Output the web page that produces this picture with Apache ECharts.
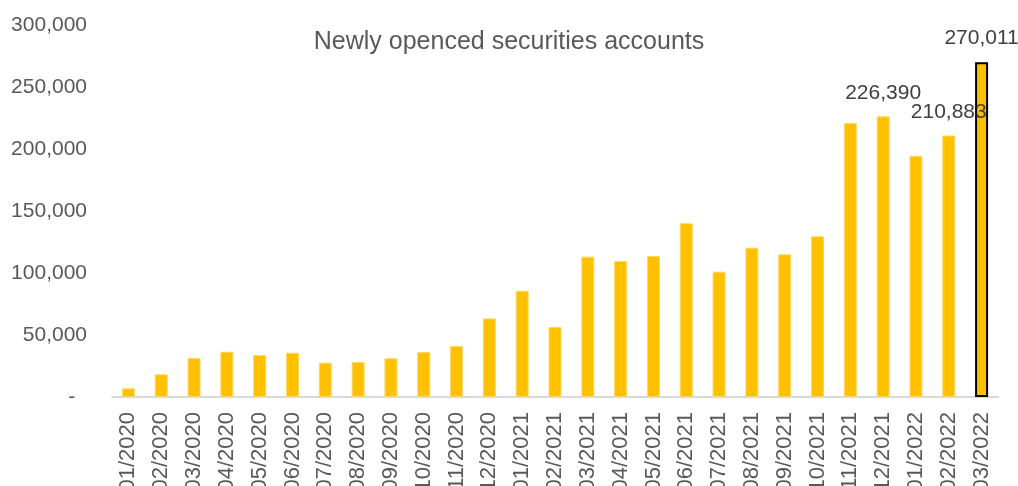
<!DOCTYPE html>
<html>
<head>
<meta charset="utf-8">
<script src="https://cdn.jsdelivr.net/npm/echarts@6/dist/echarts.min.js"></script>
<style>html,body{margin:0;padding:0;background:#fff}#c{width:1018px;height:486px}</style>
</head>
<body>
<div id="c"></div>
<script>
const titleText = 'Newly openced securities accounts';
const categories = ['01/2020','02/2020','03/2020','04/2020','05/2020','06/2020','07/2020','08/2020','09/2020','10/2020','11/2020','12/2020',
  '01/2021','02/2021','03/2021','04/2021','05/2021','06/2021','07/2021','08/2021','09/2021','10/2021','11/2021','12/2021',
  '01/2022','02/2022','03/2022'];
const accounts = [7000,18300,31500,36500,33900,35700,27700,28200,31200,36300,41100,63400,
  85700,56500,113200,109700,113700,140100,101100,120400,115100,129600,221000,226390,
  194500,210883,270011];
const labelledCategories = ['12/2021','02/2022','03/2022'];
const highlightCategory = '03/2022';
const yTicks = [0,50000,100000,150000,200000,250000,300000];

const font = 'Liberation Sans, Arial, sans-serif';
const fmt = v => v === 0 ? '-  ' : v.toLocaleString('en-US');

const data = accounts.map((v,i) => {
  const c = categories[i];
  const d = {value: v};
  if (labelledCategories.includes(c)) {
    d.label = {show: true};
  }
  if (c === highlightCategory) {
    d.itemStyle = {borderColor: '#000000', borderWidth: 2};
  }
  return d;
});

const chart = echarts.init(document.getElementById('c'), null, {renderer: 'canvas'});
chart.setOption({
  animation: false,
  backgroundColor: '#ffffff',
  title: {
    text: titleText, left: 'center', top: 25,
    textStyle: {fontFamily: font, fontSize: 25, fontWeight: 'normal', color: '#595959'}
  },
  grid: {left: 112, right: 20, top: 25, bottom: 89, containLabel: false, outerBoundsMode: 'none'},
  xAxis: {
    type: 'category', data: categories,
    axisLine: {lineStyle: {color: '#D9D9D9', width: 2}},
    axisTick: {show: false},
    axisLabel: {rotate: 90, interval: 0, margin: 15, fontFamily: font, fontSize: 22, color: '#595959'}
  },
  yAxis: {
    type: 'value', min: yTicks[0], max: yTicks[yTicks.length-1], interval: 50000,
    splitLine: {show: false}, axisLine: {show: false}, axisTick: {show: false},
    axisLabel: {margin: 25, fontFamily: font, fontSize: 21, color: '#595959', formatter: fmt}
  },
  series: [{
    type: 'bar', data: data, barWidth: 13,
    itemStyle: {color: '#FFC000', borderColor: '#FFD966', borderWidth: 1},
    label: {show: false, position: 'top', distance: 13, fontFamily: font, fontSize: 21, color: '#404040',
      formatter: p => p.value.toLocaleString('en-US')}
  }]
});
</script>
</body>
</html>
